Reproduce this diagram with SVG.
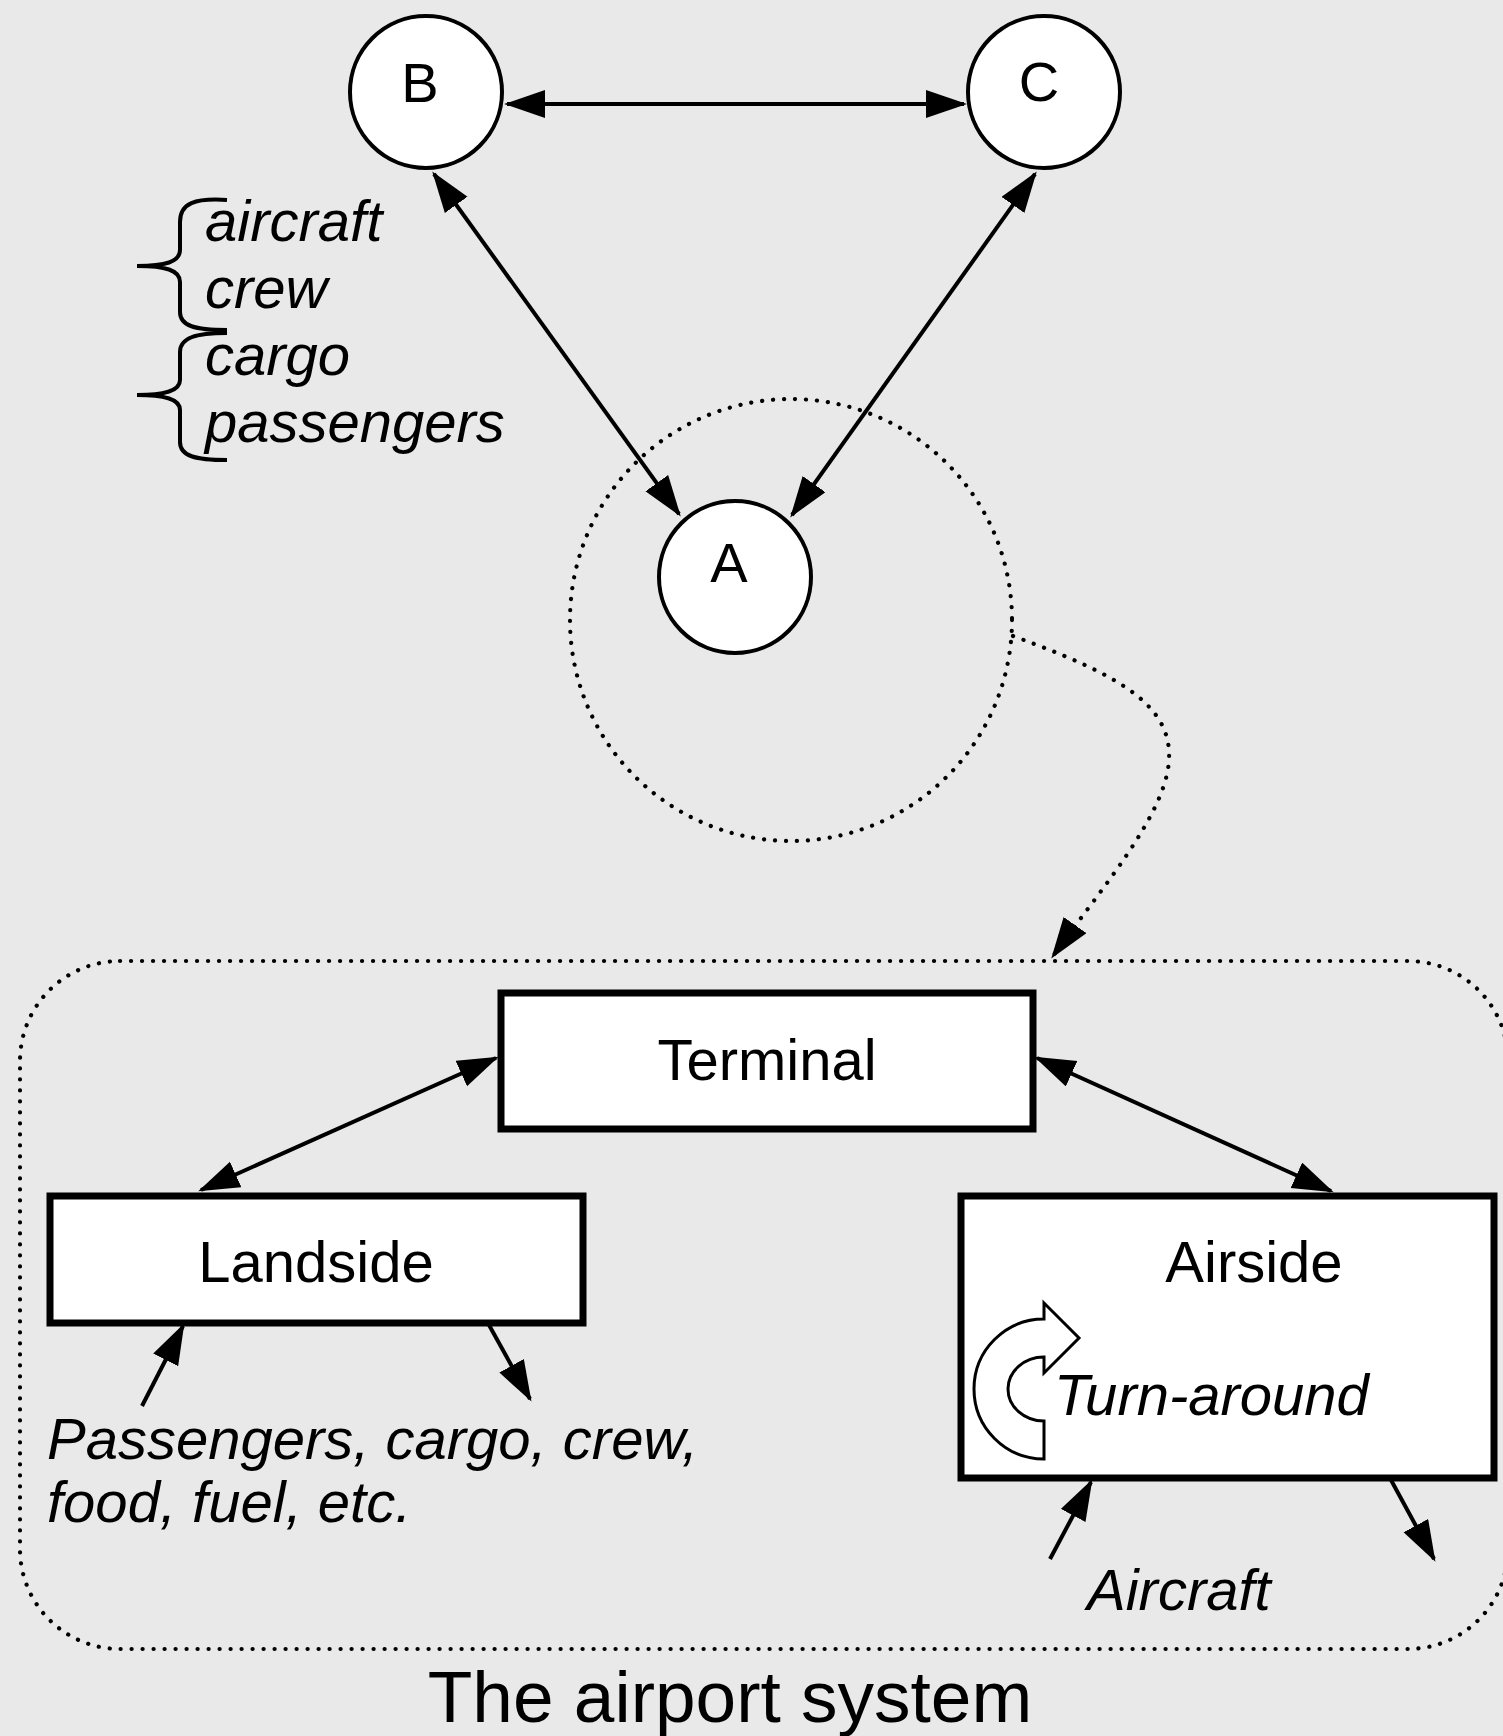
<svg xmlns="http://www.w3.org/2000/svg" width="1503" height="1736" viewBox="0 0 1503 1736">
<style>
  .lbl { font-family: "Liberation Sans", Arial, sans-serif; font-size: 58px; fill: #000; }
  .it { font-family: "Liberation Sans", Arial, sans-serif; font-size: 58px; font-style: italic; fill: #000; }
  .circ { fill: #fff; stroke: #000; stroke-width: 4; }
  .box { fill: #fff; stroke: #000; stroke-width: 7; }
  .con { fill: none; stroke: #000; stroke-width: 4; }
  .dot { fill: none; stroke: #000; stroke-width: 4.2; stroke-dasharray: 0.1 10.9; stroke-linecap: round; }
  .brace { fill: none; stroke: #000; stroke-width: 4; }
</style>
<defs>
  <marker id="ah" markerUnits="userSpaceOnUse" markerWidth="44" markerHeight="30" refX="38" refY="14" orient="auto-start-reverse" viewBox="0 0 44 30">
    <path d="M0 0 L41 14 L0 28 z" fill="#000"/>
  </marker>
</defs>
<rect x="0" y="0" width="1503" height="1736" fill="#e9e9e9"/>

<g id="zoom-circle">
  <circle class="dot" cx="791" cy="620" r="221"/>
</g>
<g id="airport-system">
  <rect class="dot" x="20" y="961" width="1488" height="688" rx="100" ry="100"/>
  <text class="lbl" x="730" y="1722" text-anchor="middle" style="font-size:73px">The airport system</text>
</g>

<g id="connectors">
  <line class="con" x1="507" y1="104" x2="964" y2="104" marker-start="url(#ah)" marker-end="url(#ah)"/>
  <line class="con" x1="434" y1="174" x2="679" y2="514" marker-start="url(#ah)" marker-end="url(#ah)"/>
  <line class="con" x1="1035" y1="174" x2="792" y2="515" marker-start="url(#ah)" marker-end="url(#ah)"/>
  <path class="dot" d="M 1013 636 C 1120 675, 1172 705, 1169 760 C 1166 815, 1100 890, 1053 956" marker-end="url(#ah)"/>
  <line class="con" x1="496" y1="1058" x2="201" y2="1190" marker-start="url(#ah)" marker-end="url(#ah)"/>
  <line class="con" x1="1037" y1="1058" x2="1331" y2="1191" marker-start="url(#ah)" marker-end="url(#ah)"/>
  <line class="con" x1="142" y1="1406" x2="183" y2="1326" marker-end="url(#ah)"/>
  <line class="con" x1="489" y1="1325" x2="530" y2="1399" marker-end="url(#ah)"/>
  <line class="con" x1="1050" y1="1559" x2="1091" y2="1482" marker-end="url(#ah)"/>
  <line class="con" x1="1391" y1="1480" x2="1434" y2="1559" marker-end="url(#ah)"/>
</g>

<g id="node-B">
  <circle class="circ" cx="426" cy="92" r="76"/>
  <text class="lbl" x="420" y="102" text-anchor="middle" style="font-size:56px">B</text>
</g>
<g id="node-C">
  <circle class="circ" cx="1044" cy="92" r="76"/>
  <text class="lbl" x="1039" y="101" text-anchor="middle" style="font-size:56px">C</text>
</g>
<g id="node-A">
  <circle class="circ" cx="735" cy="577" r="76"/>
  <text class="lbl" x="729" y="582" text-anchor="middle" style="font-size:56px">A</text>
</g>

<g id="flows-legend">
  <path class="brace" d="M 227 200 C 195 198, 180 203, 180 222 L 180 250 C 180 262, 165 266, 137 266 C 165 266, 180 270, 180 282 L 180 312 C 180 326, 195 330, 227 330"/>
  <path class="brace" d="M 227 333 C 195 333, 180 338, 180 352 L 180 380 C 180 391, 165 395, 137 395 C 165 395, 180 399, 180 410 L 180 442 C 180 456, 195 460, 227 460"/>
  <text class="it" x="205" y="241">aircraft</text>
  <text class="it" x="205" y="308">crew</text>
  <text class="it" x="205" y="375">cargo</text>
  <text class="it" x="205" y="442">passengers</text>
</g>

<g id="node-terminal">
  <rect class="box" x="501" y="993" width="532" height="136"/>
  <text class="lbl" x="767" y="1080" text-anchor="middle">Terminal</text>
</g>
<g id="node-landside">
  <rect class="box" x="50" y="1196" width="533" height="127"/>
  <text class="lbl" x="316" y="1282" text-anchor="middle">Landside</text>
</g>
<g id="node-airside">
  <rect class="box" x="961" y="1196" width="533" height="282"/>
  <text class="lbl" x="1254" y="1282" text-anchor="middle">Airside</text>
  <path d="M 1044 1459 A 70 70 0 0 1 1044 1319 L 1044 1303 L 1079 1338 L 1044 1373 L 1044 1357 A 36 32 0 0 0 1044 1421 Z" fill="#fff" stroke="#000" stroke-width="3"/>
  <text class="it" x="1054" y="1415">Turn-around</text>
</g>

<g id="labels">
  <text class="it" x="47" y="1459">Passengers, cargo, crew,</text>
  <text class="it" x="47" y="1522">food, fuel, etc.</text>
  <text class="it" x="1087" y="1610">Aircraft</text>
</g>
</svg>
